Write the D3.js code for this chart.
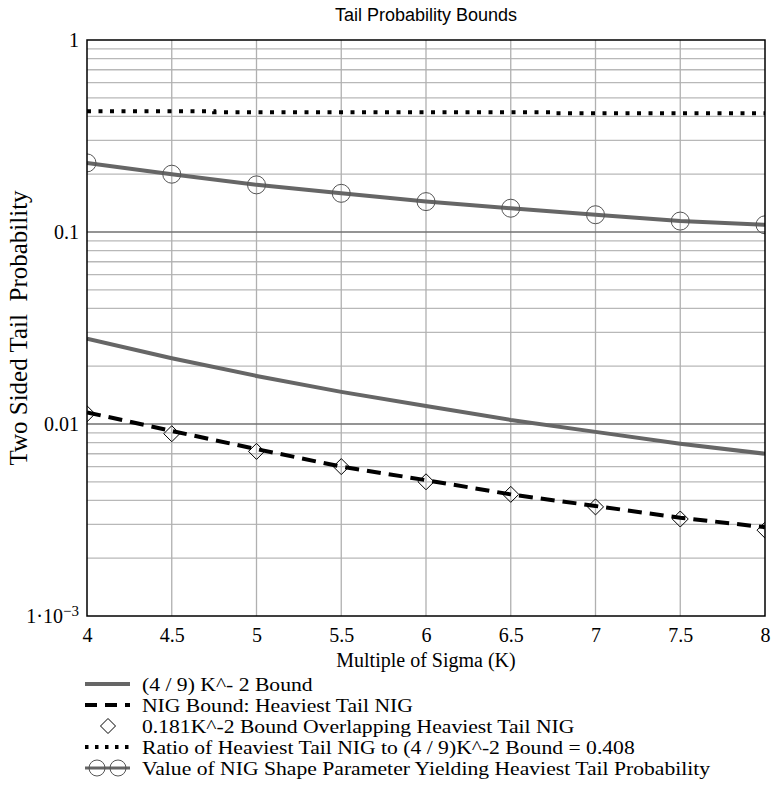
<!DOCTYPE html>
<html>
<head>
<meta charset="utf-8">
<script src="https://cdn.jsdelivr.net/npm/d3@7"></script>
<style>
  body { margin: 0; background: #fff; }
  text { white-space: pre; }
</style>
</head>
<body>
<script>
// Data
const kValues = [4, 4.5, 5, 5.5, 6, 6.5, 7, 7.5, 8];
const boundValues = [0.0278, 0.0220, 0.0178, 0.0147, 0.0124, 0.0105, 0.0091, 0.0079, 0.0070];
const nigValues = [0.0115, 0.0092, 0.0074, 0.0060, 0.0051, 0.0043, 0.00374, 0.00325, 0.0029];
const overlapValues = [0.0113, 0.0089, 0.0072, 0.0060, 0.0050, 0.0043, 0.0037, 0.0032, 0.0028];
const ratioValues = [0.425, 0.425, 0.42, 0.42, 0.42, 0.42, 0.415, 0.415, 0.415];
const shapeValues = [0.229, 0.2, 0.176, 0.159, 0.144, 0.133, 0.123, 0.114, 0.109];

const xTicks = [4, 4.5, 5, 5.5, 6, 6.5, 7, 7.5, 8];
const yTicks = [0.001, 0.01, 0.1, 1];
const legendLabels = [
  '(4 / 9) K^- 2 Bound',
  'NIG Bound: Heaviest Tail NIG',
  '0.181K^-2 Bound Overlapping Heaviest Tail NIG',
  'Ratio of Heaviest Tail NIG to (4 / 9)K^-2 Bound = 0.408',
  'Value of NIG Shape Parameter Yielding Heaviest Tail Probability'
];

// Set up the SVG
const margin = { top: 40, right: 9, bottom: 184, left: 87 };
const width = 774 - margin.left - margin.right;
const height = 800 - margin.top - margin.bottom;
const serif = '"Liberation Serif", "Times New Roman", serif';

const svg = d3.select('body')
  .append('svg')
  .attr('width', 774)
  .attr('height', 800);

const g = svg.append('g')
  .attr('transform', `translate(${margin.left}, ${margin.top})`);

const xScale = d3.scaleLinear().domain([4, 8]).range([0, width]);
const yScale = d3.scaleLog().domain([0.001, 1]).range([height, 0]);

// Grid lines
const minorY = [];
[0.001, 0.01, 0.1].forEach(d => {
  for (let i = 2; i <= 9; i++) minorY.push(d * i);
});

g.selectAll('.minor')
  .data(minorY)
  .enter().append('line')
  .attr('x1', 0).attr('x2', width)
  .attr('y1', d => yScale(d)).attr('y2', d => yScale(d))
  .attr('stroke', '#b8b8b8')
  .attr('stroke-width', 1.3);

g.selectAll('.vgrid')
  .data(xTicks.slice(1, -1))
  .enter().append('line')
  .attr('x1', d => xScale(d)).attr('x2', d => xScale(d))
  .attr('y1', 0).attr('y2', height)
  .attr('stroke', '#b0b0b0')
  .attr('stroke-width', 1.3);

g.selectAll('.major')
  .data([0.01, 0.1])
  .enter().append('line')
  .attr('x1', 0).attr('x2', width)
  .attr('y1', d => yScale(d)).attr('y2', d => yScale(d))
  .attr('stroke', '#707070')
  .attr('stroke-width', 1.5);

// Clip marks to the plot area
svg.append('defs').append('clipPath')
  .attr('id', 'plot-clip')
  .append('rect')
  .attr('width', width).attr('height', height);

const plot = g.append('g').attr('clip-path', 'url(#plot-clip)');

const line = (vals, curve) => d3.line()
  .x((d, i) => xScale(kValues[i]))
  .y(d => yScale(d))
  .curve(curve || d3.curveLinear)(vals);

// Ratio (dotted)
plot.append('path')
  .attr('d', line(ratioValues, d3.curveStep))
  .attr('fill', 'none')
  .attr('stroke', '#000')
  .attr('stroke-width', 4)
  .attr('stroke-dasharray', '4,7.5');

// Shape parameter line with circles
plot.append('path')
  .attr('d', line(shapeValues))
  .attr('fill', 'none')
  .attr('stroke', '#666')
  .attr('stroke-width', 4);

plot.selectAll('.shape-pt')
  .data(shapeValues)
  .enter().append('circle')
  .attr('cx', (d, i) => xScale(kValues[i]))
  .attr('cy', d => yScale(d))
  .attr('r', 9)
  .attr('fill', 'none')
  .attr('stroke', '#555')
  .attr('stroke-width', 1);

// (4/9) K^-2 bound
plot.append('path')
  .attr('d', line(boundValues))
  .attr('fill', 'none')
  .attr('stroke', '#666')
  .attr('stroke-width', 4);

// NIG bound (dashed)
plot.append('path')
  .attr('d', line(nigValues))
  .attr('fill', 'none')
  .attr('stroke', '#000')
  .attr('stroke-width', 4)
  .attr('stroke-dasharray', '14,8');

// 0.181 K^-2 diamonds
const diamond = s => `M0,${-s}L${s},0L0,${s}L${-s},0Z`;
plot.selectAll('.diamond')
  .data(overlapValues)
  .enter().append('path')
  .attr('transform', (d, i) => `translate(${xScale(kValues[i])}, ${yScale(d)})`)
  .attr('d', diamond(8))
  .attr('fill', 'none')
  .attr('stroke', '#000')
  .attr('stroke-width', 1);

// Frame
g.append('rect')
  .attr('width', width).attr('height', height)
  .attr('fill', 'none')
  .attr('stroke', '#000')
  .attr('stroke-width', 1.5);

// Axes
const xAxis = g.append('g')
  .attr('transform', `translate(0, ${height})`)
  .call(d3.axisBottom(xScale).tickValues(xTicks).tickSize(0).tickPadding(12).tickFormat(d3.format('')));

const yAxis = g.append('g')
  .call(d3.axisLeft(yScale).tickValues(yTicks).tickSize(0).tickPadding(8).tickFormat(d3.format('')));

[xAxis, yAxis].forEach(a => {
  a.select('.domain').remove();
  a.selectAll('text')
    .attr('font-family', serif)
    .attr('font-size', 20)
    .attr('fill', '#000');
});

yAxis.selectAll('.tick text')
  .filter(d => d === 0.001)
  .text(null)
  .call(t => {
    t.append('tspan').text('1\u00B710');
    t.append('tspan').attr('dy', '-0.45em').attr('font-size', 15).text('\u22123');
  });

// Titles
svg.append('text')
  .attr('x', 426).attr('y', 21)
  .attr('text-anchor', 'middle')
  .attr('font-family', '"Liberation Sans", Arial, sans-serif')
  .attr('font-size', 18)
  .text('Tail Probability Bounds');

svg.append('text')
  .attr('transform', 'translate(27, 328) rotate(-90)')
  .attr('text-anchor', 'middle')
  .attr('font-family', serif)
  .attr('font-size', 25)
  .text('Two Sided Tail  Probability');

svg.append('text')
  .attr('x', 426).attr('y', 667)
  .attr('text-anchor', 'middle')
  .attr('font-family', serif)
  .attr('font-size', 20)
  .text('Multiple of Sigma (K)');

// Legend
const legend = svg.append('g').attr('transform', 'translate(85, 684)');
const rowGap = 21;

legendLabels.forEach((label, i) => {
  const row = legend.append('g').attr('transform', `translate(0, ${i * rowGap})`);
  // slightly smaller font, stretched sideways so rows don't collide
  row.append('text')
    .attr('transform', 'translate(57, 6.5) scale(1.17, 1)')
    .attr('font-family', serif)
    .attr('font-size', 18.5)
    .text(label);

  if (i === 0) {
    row.append('line').attr('x1', 0).attr('x2', 45)
      .attr('stroke', '#666').attr('stroke-width', 4);
  } else if (i === 1) {
    row.append('line').attr('x1', 0).attr('x2', 45)
      .attr('stroke', '#000').attr('stroke-width', 4)
      .attr('stroke-dasharray', '12,8');
  } else if (i === 2) {
    row.append('path')
      .attr('transform', 'translate(23, 0)')
      .attr('d', diamond(7.5))
      .attr('fill', 'none').attr('stroke', '#000').attr('stroke-width', 1);
  } else if (i === 3) {
    row.append('line').attr('x1', 0).attr('x2', 45)
      .attr('stroke', '#000').attr('stroke-width', 4)
      .attr('stroke-dasharray', '3.5,6.5');
  } else {
    row.append('line').attr('x1', 0).attr('x2', 45)
      .attr('stroke', '#666').attr('stroke-width', 3);
    [12, 33].forEach(cx => {
      row.append('circle').attr('cx', cx).attr('r', 8)
        .attr('fill', 'none').attr('stroke', '#555').attr('stroke-width', 1);
    });
  }
});
</script>
</body>
</html>
